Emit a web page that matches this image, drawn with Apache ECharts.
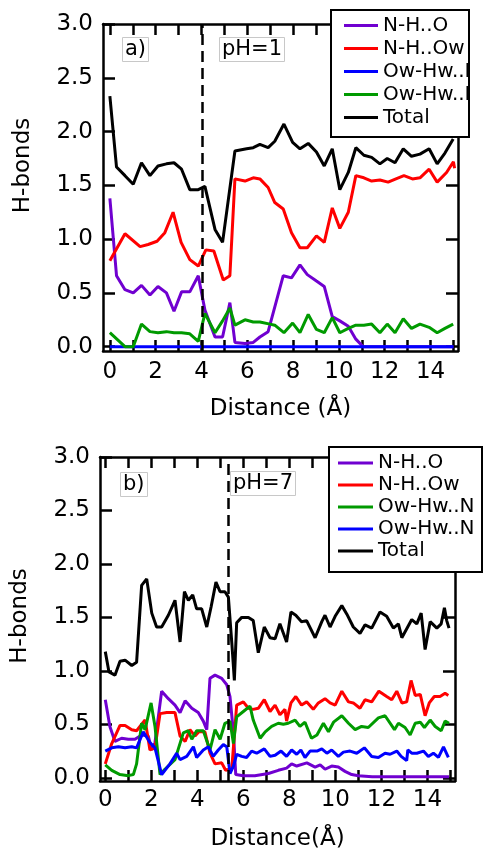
<!DOCTYPE html>
<html>
<head>
<meta charset="utf-8">
<script src="https://cdn.jsdelivr.net/npm/echarts@6/dist/echarts.min.js"></script>
<style>
html,body{margin:0;padding:0;background:#fff;}
#chart{width:486px;height:852px;}
</style>
</head>
<body>
<div id="chart"></div>
<script>
// ---------- DATA ----------
const xTickValues = [0,1,2,3,4,5,6,7,8,9,10,11,12,13,14,15];
const xLabelValues = [0,2,4,6,8,10,12,14];
const yTickValues = [0,0.5,1.0,1.5,2.0,2.5,3.0];
const seriesNames = ['N-H..O','N-H..Ow','Ow-Hw..N','Ow-Hw..N ','Total'];
const dashTop = 4.05;
const dashBottom = 5.35;
const labelTopPanel = 'a)';
const labelTopPH = 'pH=1';
const labelBottomPanel = 'b)';
const labelBottomPH = 'pH=7';

// Panel a) pH=1
const topPurple = [[0,1.38],[0.29,0.66],[0.66,0.53],[1.02,0.50],[1.38,0.57],[1.75,0.48],[2.1,0.56],[2.47,0.50],[2.8,0.33],[3.13,0.51],[3.49,0.51],[3.86,0.66],[4.15,0.34],[4.59,0.09],[4.92,0.09],[5.24,0.41],[5.46,0.04],[5.9,0.03],[6.26,0.04],[6.55,0.09],[6.91,0.14],[7.57,0.66],[7.93,0.64],[8.3,0.76],[8.62,0.67],[9.02,0.61],[9.36,0.56],[9.71,0.28],[10.04,0.24],[10.41,0.19],[10.74,0.07],[11.06,0.0],[12,0],[13,0],[14,0],[15,0]];
const topRed = [[0,0.80],[0.66,1.05],[1.32,0.93],[1.67,0.95],[2.06,0.98],[2.4,1.06],[2.76,1.25],[3.11,0.97],[3.49,0.81],[3.86,0.75],[4.19,0.90],[4.54,0.89],[4.95,0.62],[5.24,0.66],[5.46,1.56],[5.9,1.54],[6.26,1.57],[6.55,1.56],[6.91,1.48],[7.2,1.34],[7.57,1.28],[7.93,1.06],[8.3,0.92],[8.62,0.92],[9.02,1.03],[9.36,0.97],[9.71,1.29],[10.04,1.10],[10.41,1.25],[10.74,1.59],[11.09,1.57],[11.43,1.54],[11.79,1.55],[12.15,1.53],[12.49,1.56],[12.84,1.59],[13.21,1.56],[13.54,1.57],[13.94,1.65],[14.29,1.53],[14.7,1.62],[15.0,1.72],[15.05,1.66]];
const topBlue = [[0,0],[2,0],[4,0],[6,0],[8,0],[10,0],[12,0],[14,0],[15,0]];
const topGreen = [[0,0.13],[0.66,0.0],[1.02,0.0],[1.38,0.21],[1.75,0.14],[2.1,0.13],[2.47,0.14],[2.8,0.13],[3.13,0.13],[3.49,0.12],[3.86,0.05],[4.15,0.31],[4.59,0.13],[4.92,0.24],[5.24,0.36],[5.46,0.20],[5.9,0.25],[6.26,0.23],[6.55,0.23],[6.99,0.21],[7.2,0.20],[7.6,0.13],[7.98,0.22],[8.3,0.13],[8.66,0.30],[9.02,0.16],[9.36,0.13],[9.71,0.27],[10.04,0.13],[10.41,0.17],[10.74,0.20],[11.09,0.20],[11.43,0.21],[11.79,0.13],[12.11,0.21],[12.45,0.13],[12.81,0.26],[13.17,0.17],[13.54,0.21],[13.94,0.18],[14.29,0.13],[14.63,0.17],[14.99,0.21]];
const topBlack = [[0,2.33],[0.29,1.67],[0.66,1.59],[1.02,1.51],[1.38,1.71],[1.75,1.59],[2.1,1.68],[2.47,1.70],[2.8,1.71],[3.13,1.65],[3.49,1.46],[3.86,1.46],[4.15,1.49],[4.59,1.09],[4.92,0.97],[5.46,1.82],[5.97,1.84],[6.26,1.85],[6.55,1.88],[6.91,1.85],[7.2,1.91],[7.6,2.07],[7.98,1.90],[8.3,1.84],[8.66,1.89],[9.02,1.81],[9.36,1.68],[9.71,1.84],[10.04,1.46],[10.41,1.62],[10.74,1.85],[11.09,1.78],[11.43,1.76],[11.79,1.70],[12.11,1.75],[12.45,1.71],[12.81,1.84],[13.17,1.77],[13.54,1.79],[13.94,1.84],[14.29,1.70],[14.63,1.80],[14.99,1.93]];

// Panel b) pH=7
const bottomPurple = [[0,0.73],[0.2,0.48],[0.42,0.34],[0.71,0.37],[1.0,0.36],[1.29,0.36],[1.58,0.40],[1.87,0.39],[2.02,0.26],[2.16,0.33],[2.45,0.81],[2.74,0.74],[3.03,0.68],[3.25,0.61],[3.47,0.72],[3.76,0.65],[4.04,0.61],[4.26,0.53],[4.41,0.45],[4.55,0.93],[4.77,0.96],[5.06,0.93],[5.28,0.87],[5.42,0.76],[5.57,0.42],[5.67,0.03],[6.0,0.02],[6.5,0.02],[7.09,0.04],[7.52,0.07],[7.88,0.09],[8.1,0.13],[8.32,0.11],[8.76,0.14],[9.12,0.10],[9.34,0.12],[9.55,0.08],[9.84,0.11],[10.13,0.10],[10.42,0.06],[10.71,0.03],[11.0,0.02],[11.6,0.01],[12.5,0.01],[13.5,0.01],[14.5,0.01],[14.94,0.01]];
const bottomRed = [[0,0.13],[0.28,0.32],[0.64,0.49],[0.86,0.49],[1.15,0.45],[1.36,0.44],[1.73,0.54],[1.94,0.26],[2.16,0.28],[2.38,0.60],[2.67,0.61],[3.03,0.61],[3.25,0.39],[3.47,0.34],[3.68,0.45],[3.9,0.39],[4.07,0.43],[4.33,0.43],[4.55,0.23],[4.77,0.13],[5.06,0.14],[5.23,0.07],[5.5,0.09],[5.71,0.68],[6.0,0.71],[6.22,0.65],[6.43,0.64],[6.65,0.65],[6.91,0.73],[7.16,0.62],[7.38,0.68],[7.59,0.59],[7.81,0.64],[7.88,0.53],[8.07,0.70],[8.28,0.76],[8.53,0.68],[8.75,0.71],[9.04,0.64],[9.26,0.70],[9.55,0.74],[9.77,0.70],[9.99,0.68],[10.28,0.81],[10.57,0.71],[10.78,0.70],[11.07,0.65],[11.29,0.73],[11.58,0.71],[11.89,0.81],[12.23,0.76],[12.45,0.73],[12.67,0.81],[12.89,0.70],[13.1,0.71],[13.29,0.91],[13.47,0.77],[13.69,0.78],[13.9,0.58],[14.08,0.70],[14.3,0.76],[14.55,0.76],[14.77,0.79],[14.91,0.77]];
const bottomGreen = [[0,0.12],[0.28,0.07],[0.64,0.03],[1.0,0.02],[1.22,0.03],[1.36,0.13],[1.58,0.51],[1.73,0.45],[1.99,0.70],[2.16,0.48],[2.38,0.03],[2.59,0.08],[3.03,0.17],[3.39,0.42],[3.61,0.44],[3.76,0.36],[3.97,0.44],[4.26,0.44],[4.55,0.26],[4.77,0.45],[4.99,0.36],[5.2,0.51],[5.42,0.53],[5.57,0.32],[5.71,0.57],[6.0,0.62],[6.29,0.67],[6.43,0.54],[6.73,0.37],[6.95,0.43],[7.23,0.48],[7.52,0.51],[7.74,0.50],[7.95,0.51],[8.25,0.54],[8.46,0.48],[8.68,0.52],[8.96,0.37],[9.2,0.40],[9.48,0.51],[9.7,0.43],[9.92,0.52],[10.28,0.58],[10.57,0.51],[10.86,0.45],[11.14,0.48],[11.43,0.47],[11.87,0.56],[12.16,0.58],[12.57,0.45],[12.74,0.51],[13.03,0.47],[13.25,0.40],[13.47,0.51],[13.69,0.52],[13.87,0.47],[14.12,0.54],[14.34,0.48],[14.6,0.44],[14.77,0.53],[14.94,0.51]];
const bottomBlue = [[0,0.25],[0.28,0.28],[0.57,0.29],[0.86,0.28],[1.15,0.29],[1.36,0.28],[1.65,0.43],[1.94,0.33],[2.16,0.28],[2.45,0.03],[2.81,0.13],[3.1,0.23],[3.25,0.17],[3.54,0.20],[3.83,0.29],[3.97,0.19],[4.26,0.26],[4.48,0.29],[4.69,0.20],[4.91,0.26],[5.13,0.31],[5.28,0.29],[5.42,0.04],[5.57,0.11],[5.71,0.22],[5.93,0.20],[6.14,0.19],[6.36,0.25],[6.58,0.23],[6.91,0.27],[7.16,0.20],[7.38,0.21],[7.64,0.25],[7.88,0.20],[8.1,0.26],[8.32,0.22],[8.5,0.26],[8.68,0.19],[8.9,0.25],[9.2,0.25],[9.41,0.27],[9.63,0.23],[9.84,0.26],[10.13,0.20],[10.35,0.24],[10.64,0.25],[10.93,0.23],[11.26,0.28],[11.58,0.20],[11.87,0.19],[12.16,0.23],[12.38,0.22],[12.67,0.25],[12.86,0.20],[13.1,0.16],[13.15,0.26],[13.32,0.23],[13.54,0.23],[13.83,0.25],[14.04,0.20],[14.26,0.23],[14.48,0.19],[14.7,0.29],[14.91,0.19]];
const bottomBlack = [[0,1.18],[0.16,0.99],[0.42,0.96],[0.64,1.09],[0.86,1.10],[1.15,1.05],[1.36,1.08],[1.58,1.80],[1.8,1.86],[2.02,1.54],[2.23,1.41],[2.45,1.41],[2.74,1.52],[3.03,1.66],[3.25,1.27],[3.44,1.74],[3.61,1.66],[3.8,1.71],[3.97,1.58],[4.19,1.58],[4.41,1.41],[4.6,1.60],[4.81,1.83],[4.99,1.74],[5.2,1.74],[5.35,1.69],[5.5,1.26],[5.61,0.91],[5.71,1.45],[5.93,1.50],[6.22,1.50],[6.43,1.47],[6.65,1.17],[6.91,1.41],[7.16,1.31],[7.38,1.30],[7.59,1.44],[7.88,1.27],[8.07,1.55],[8.28,1.52],[8.53,1.46],[8.75,1.47],[9.12,1.31],[9.41,1.46],[9.55,1.52],[9.77,1.41],[9.99,1.51],[10.28,1.61],[10.5,1.53],[10.78,1.41],[11.07,1.35],[11.29,1.43],[11.58,1.40],[11.94,1.55],[12.23,1.51],[12.52,1.40],[12.74,1.44],[12.89,1.31],[13.32,1.48],[13.54,1.44],[13.73,1.54],[13.9,1.20],[14.12,1.46],[14.41,1.40],[14.6,1.44],[14.74,1.59],[14.84,1.47],[14.94,1.40]];

// ---------- STYLE ----------
const FONT = 'DejaVu Sans';
const C_PURPLE = '#7000d0', C_RED = '#ff0000', C_BLUE = '#0000ff', C_GREEN = '#009a00', C_BLACK = '#000000';

function xAx(grid, pos, withLabels, name) {
  return {
    type: 'value', gridIndex: grid, position: pos,
    min: grid === 0 ? -0.3 : -0.23, max: 15.2,
    axisLine: {show: true, onZero: false, lineStyle: {color: '#000', width: 2.5}},
    axisTick: {show: true, inside: true, length: 11, customValues: xTickValues, lineStyle: {color: '#000', width: 2.5}},
    axisLabel: {show: withLabels, customValues: xLabelValues, fontSize: 23, fontFamily: FONT, color: '#000', margin: grid === 0 ? 10 : 8},
    splitLine: {show: false},
    name: name || '', nameLocation: 'middle', nameGap: grid === 0 ? 47 : 47,
    nameTextStyle: {fontSize: 23, fontFamily: FONT, color: '#000'}
  };
}
function yAx(grid, pos, withLabels) {
  return {
    type: 'value', gridIndex: grid, position: pos,
    min: grid === 0 ? -0.04 : -0.03, max: 3.0,
    axisLine: {show: true, onZero: false, lineStyle: {color: '#000', width: 2.5}},
    axisTick: {show: true, inside: true, length: 12, customValues: yTickValues, lineStyle: {color: '#000', width: 2.5}},
    axisLabel: {show: withLabels, customValues: yTickValues, formatter: v => v.toFixed(1), fontSize: 23, fontFamily: FONT, color: '#000', margin: 10},
    splitLine: {show: false},
    name: withLabels ? 'H-bonds' : '', nameLocation: 'middle', nameGap: 68, nameRotate: 90,
    nameTextStyle: {fontSize: 23, fontFamily: FONT, color: '#000', padding: grid === 0 ? [0, 0, 0, 44] : [0, 0, 0, 6]}
  };
}
function line(name, data, color, xi, yi, extra) {
  return Object.assign({
    type: 'line', name: name, data: data, xAxisIndex: xi, yAxisIndex: yi,
    symbol: 'none', color: color, lineStyle: {color: color, width: 3},
    animation: false, silent: true
  }, extra || {});
}
function dash(x) {
  return {silent: true, symbol: 'none', label: {show: false},
    lineStyle: {color: '#000', width: 2.5, type: [11, 6]}, data: [{xAxis: x}]};
}
function panelTitle(text, left, top) {
  return {text: text, left: left, top: top, padding: [2, 3], borderColor: '#c8c8c8', borderWidth: 1,
    backgroundColor: '#fff', textStyle: {fontSize: 21, fontWeight: 'normal', fontFamily: FONT, color: '#000'}};
}
function legendBlock(data, left, top, lh, iw) {
  return {data: data, orient: 'vertical', left: left, top: top, padding: 0, itemGap: 0,
    itemWidth: iw, itemHeight: 3, icon: 'rect', z: 8, selectedMode: false,
    textStyle: {fontSize: 20, fontFamily: FONT, color: '#000', lineHeight: lh}};
}

const chart = echarts.init(document.getElementById('chart'), null, {renderer: 'canvas'});
chart.setOption({
  animation: false,
  backgroundColor: '#fff',
  grid: [
    {left: 103, top: 24, width: 355, height: 327},
    {left: 100, top: 457, width: 355, height: 328}
  ],
  xAxis: [xAx(0, 'bottom', true, 'Distance (Å)'), xAx(0, 'top', false), xAx(1, 'bottom', true, 'Distance(Å)'), xAx(1, 'top', false)],
  yAxis: [yAx(0, 'left', true), yAx(0, 'right', false), yAx(1, 'left', true), yAx(1, 'right', false)],
  title: [panelTitle(labelTopPanel, 122, 37), panelTitle(labelTopPH, 219, 37), panelTitle(labelBottomPanel, 120, 472), panelTitle(labelBottomPH, 230, 471)],
  legend: [
    legendBlock([seriesNames[0], seriesNames[1], seriesNames[2], seriesNames[3], seriesNames[4]], 344, 14, 23, 34),
    legendBlock([seriesNames[0], seriesNames[1], seriesNames[3], seriesNames[2], seriesNames[4]], 338, 452, 22, 35)
  ],
  graphic: [
    {type: 'rect', shape: {x: 331, y: 10, width: 138, height: 127}, style: {fill: '#fff', stroke: '#000', lineWidth: 2}, z: 7},
    {type: 'rect', shape: {x: 470, y: 0, width: 16, height: 140}, style: {fill: '#fff'}, z: 9},
    {type: 'rect', shape: {x: 329, y: 447, width: 153, height: 125}, style: {fill: '#fff', stroke: '#000', lineWidth: 2}, z: 7}
  ],
  series: [
    line(seriesNames[0], topPurple, C_PURPLE, 0, 0, {markLine: dash(dashTop)}),
    line(seriesNames[1], topRed, C_RED, 0, 0),
    line(seriesNames[2], topBlue, C_BLUE, 0, 0),
    line(seriesNames[3], topGreen, C_GREEN, 0, 0),
    line(seriesNames[4], topBlack, C_BLACK, 0, 0),
    line(seriesNames[0], bottomPurple, C_PURPLE, 2, 2, {markLine: dash(dashBottom)}),
    line(seriesNames[1], bottomRed, C_RED, 2, 2),
    line(seriesNames[3], bottomGreen, C_GREEN, 2, 2),
    line(seriesNames[2], bottomBlue, C_BLUE, 2, 2),
    line(seriesNames[4], bottomBlack, C_BLACK, 2, 2)
  ]
});
</script>
</body>
</html>
